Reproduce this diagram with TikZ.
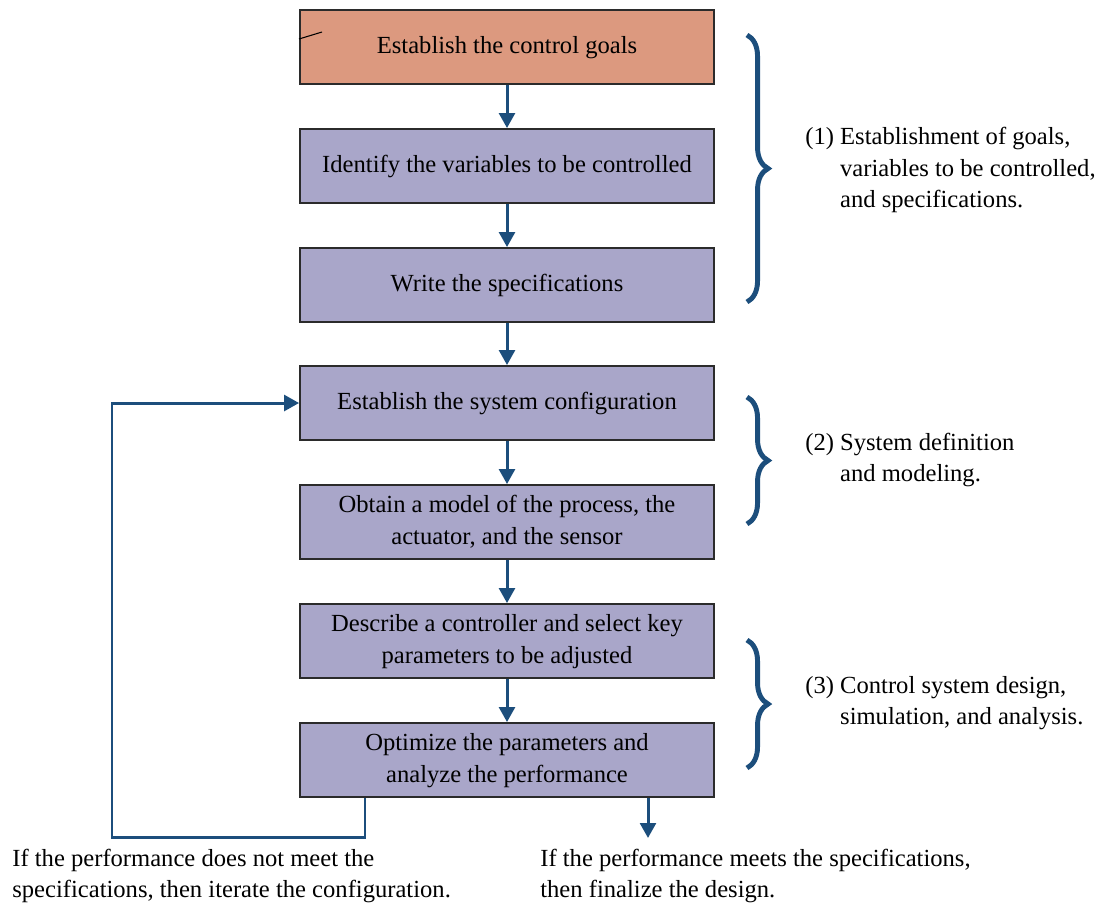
\documentclass[tikz,border=0pt]{standalone}
\usepackage{fontspec}
\setmainfont{Liberation Serif}
\usepackage{tikz}
\usetikzlibrary{arrows.meta,calc,decorations.pathreplacing}
\definecolor{lachs}{HTML}{DC997F}
\definecolor{lila}{HTML}{A9A6C9}
\definecolor{blau}{HTML}{1C4E7C}
\definecolor{rand}{HTML}{2B2B2B}
\tikzset{
  stepbox/.style={draw=rand,fill=lila,line width=1.1pt,minimum width=8.28cm,minimum height=1.48cm,align=center,inner sep=0pt,font=\fontsize{14}{18}\selectfont},
  goalbox/.style={stepbox,fill=lachs},
  flow/.style={-{Triangle[length=8.5pt,width=9pt]},blau,line width=1.7pt},
  curly/.style={blau,line width=2.8pt,decorate,decoration={brace,amplitude=12pt}},
  note/.style={align=left,anchor=west,inner sep=0pt,font=\fontsize{14}{18}\selectfont},
}
\begin{document}
\begin{tikzpicture}[x=0.02cm,y=-0.02cm]
  \useasboundingbox (0,0) rectangle (1105,907);
  % --- Schritte ---
  \node[goalbox] (goals) at (507,47) {Establish the control goals\strut};
  \node[stepbox] (vars)  at (507,166) {Identify the variables to be controlled\strut};
  \node[stepbox] (spec)  at (507,285) {Write the specifications\strut};
  \node[stepbox] (conf)  at (507,403) {Establish the system configuration\strut};
  \node[stepbox] (model) at (507,522) {\strut Obtain a model of the process, the\\actuator, and the sensor\strut};
  \node[stepbox] (ctrl)  at (507,641) {\strut Describe a controller and select key\\parameters to be adjusted\strut};
  \node[stepbox] (opt)   at (507,760) {\strut Optimize the parameters and\\analyze the performance\strut};
  \draw[black,line width=0.6pt] (299,39)--(322,32);
  % --- Pfeile ---
  \draw[flow] (goals) -- (vars);
  \draw[flow] (vars) -- (spec);
  \draw[flow] (spec) -- (conf);
  \draw[flow] (conf) -- (model);
  \draw[flow] (model) -- (ctrl);
  \draw[flow] (ctrl) -- (opt);
  % --- Rueckfuehrung ---
  \coordinate (back) at ($(opt.south)+(-142,0)$);
  \coordinate (done) at ($(opt.south)+(141,40)$);
  \draw[flow] (back) -- ++(0,40) -| (112,403) -- (conf.west);
  \draw[flow] (done |- opt.south) -- (done);
  % --- Klammern ---
  \draw[curly] (747,35) -- (747,302);
  \draw[curly] (747,397) -- (747,524);
  \draw[curly] (747,640) -- (747,768);
  \node[note] (n1) at (805,170) {(1) Establishment of goals,\\\hphantom{(1)~}variables to be controlled,\\\hphantom{(1)~}and specifications.};
  \node[note] (n2) at (805,460) {(2) System definition\\\hphantom{(2)~}and modeling.};
  \node[note] (n3) at (805,703) {(3) Control system design,\\\hphantom{(3)~}simulation, and analysis.};
  % --- Ausgang ---
  \node[note] (no)  at (12,876) {If the performance does not meet the\\specifications, then iterate the configuration.};
  \node[note] (yes) at (540,876) {If the performance meets the specifications,\\then finalize the design.};
\end{tikzpicture}
\end{document}
